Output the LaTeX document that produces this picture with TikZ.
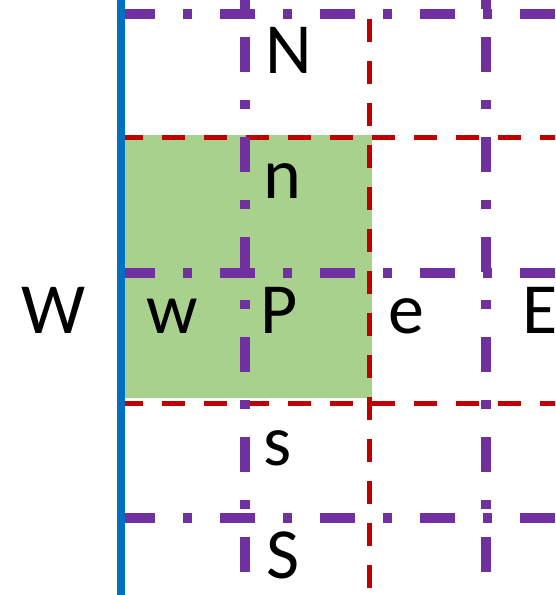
\documentclass[tikz,border=0pt]{standalone}
\usepackage{fontspec}
\setmainfont{Carlito}
\definecolor{gridpurple}{HTML}{7030A0}
\definecolor{gridred}{HTML}{C00000}
\definecolor{wallblue}{HTML}{0070C0}
\definecolor{cellgreen}{HTML}{A9D18E}
\begin{document}
\begin{tikzpicture}[x=1pt,y=-1pt,
  purpleline/.style={gridpurple,line width=10pt,line cap=butt,dash pattern=on 35pt off 28pt on 9pt off 28pt},
  redline/.style={gridred,line width=5pt,line cap=butt,dash pattern=on 23pt off 19pt},
  wall/.style={wallblue,line width=8pt},
  lbl/.style={font=\fontsize{72}{80}\selectfont,inner sep=0pt,anchor=base,text=black}]
\useasboundingbox (0,0) rectangle (555,595);
\begin{scope}
\clip (0,0) rectangle (555,595);
% control volume
\fill[cellgreen] (121,135) rectangle (372,398);
% faces (red dashed)
\draw[redline] (120,137.5) -- (600,137.5);
\draw[redline] (120,403) -- (600,403);
\draw[redline] (369,-23) -- (369,640);
% grid lines (purple dash-dot)
\draw[purpleline] (120,14) -- (640,14);
\draw[purpleline] (120,272.5) -- (640,272.5);
\draw[purpleline] (120,518) -- (640,518);
\draw[purpleline] (245,-63) -- (245,660);
\draw[purpleline] (486,-63) -- (486,660);
% wall
\draw[wall] (121,-5) -- (121,600);
\end{scope}
\node[lbl] (N) at (289,73) {N};
\node[lbl] (n) at (282.5,198) {n};
\node[lbl] (W) at (54,333) {W};
\node[lbl] (w) at (172.5,333) {w};
\node[lbl] (P) at (279,333) {P};
\node[lbl] (e) at (406,333) {e};
\node[lbl] (E) at (540,333) {E};
\node[lbl] (s) at (277.5,465) {s};
\node[lbl] (S) at (283,578) {S};
\end{tikzpicture}
\end{document}
